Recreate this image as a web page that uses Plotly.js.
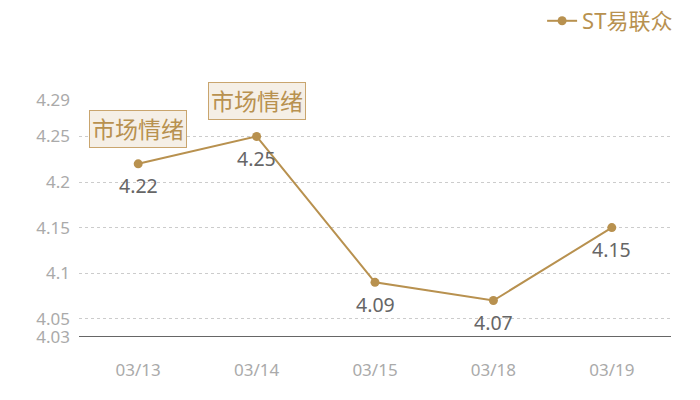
<!DOCTYPE html>
<html>
<head>
<meta charset="utf-8">
<script src="https://cdn.plot.ly/plotly-3.0.1.min.js"></script>
<style>html,body{margin:0;padding:0;background:#fff;}#chart{width:700px;height:400px;}</style>
</head>
<body>
<div id="chart"></div>
<script>
// Daily closing prices
const dates = ['03/13', '03/14', '03/15', '03/18', '03/19'];
const prices = [4.22, 4.25, 4.09, 4.07, 4.15];
const seriesName = 'ST易联众';
const yTicks = [4.03, 4.05, 4.1, 4.15, 4.2, 4.25, 4.29];
const yTickText = ['4.03', '4.05', '4.1', '4.15', '4.2', '4.25', '4.29'];
// Sentiment tags shown above selected days
const tagDates = ['03/13', '03/14'];
const tagText = ['市场情绪', '市场情绪'];

const gold = '#b8914f';
const font = '"Noto Sans", "Noto Sans CJK SC", sans-serif';

const trace = {
  x: dates,
  y: prices,
  name: seriesName,
  type: 'scatter',
  mode: 'lines+markers',
  line: {color: gold, width: 2},
  marker: {color: gold, size: 9},
  cliponaxis: false
};

// Value labels under each point
const valueLabels = dates.map((d, i) => ({
  x: d, y: prices[i], xref: 'x', yref: 'y',
  text: prices[i].toFixed(2),
  showarrow: false,
  yshift: -22,
  font: {family: font, size: 19.5, color: '#666'}
}));

// Tag boxes above tagged points
const tags = tagDates.map((d, i) => ({
  x: d,
  y: prices[dates.indexOf(d)],
  xref: 'x', yref: 'y',
  text: tagText[i],
  showarrow: false,
  yshift: 35,
  font: {family: font, size: 23, color: gold},
  bgcolor: '#f5efe6',
  bordercolor: '#c9a56e',
  borderwidth: 1,
  borderpad: 2
}));

const layout = {
  width: 700, height: 400,
  margin: {l: 79, r: 29, t: 100, b: 63},
  paper_bgcolor: '#fff', plot_bgcolor: '#fff',
  showlegend: true,
  legend: {
    x: 1.012, xanchor: 'right', y: 1.005, yref: 'container', yanchor: 'top',
    font: {family: font, size: 22, color: gold},
    bgcolor: 'rgba(0,0,0,0)', itemwidth: 30
  },
  xaxis: {
    type: 'category',
    range: [-0.5, 4.5],
    showgrid: false,
    zeroline: false,
    showline: false,
    ticks: '',
    tickfont: {family: font, size: 17, color: '#aaa'},
    ticklabelstandoff: 21
  },
  yaxis: {
    range: [4.03, 4.29],
    tickvals: yTicks,
    ticktext: yTickText,
    showgrid: true,
    gridcolor: '#cccccc',
    griddash: 'dot',
    gridwidth: 1,
    zeroline: false,
    showline: false,
    ticks: '',
    tickfont: {family: font, size: 17, color: '#aaa'},
    ticklabelstandoff: 8
  },
  shapes: [{
    type: 'line', xref: 'paper', yref: 'y',
    x0: 0, x1: 1, y0: 4.03, y1: 4.03,
    line: {color: '#333', width: 1.3}
  }],
  annotations: valueLabels.concat(tags)
};

Plotly.newPlot('chart', [trace], layout, {displayModeBar: false, staticPlot: true});
</script>
</body>
</html>
